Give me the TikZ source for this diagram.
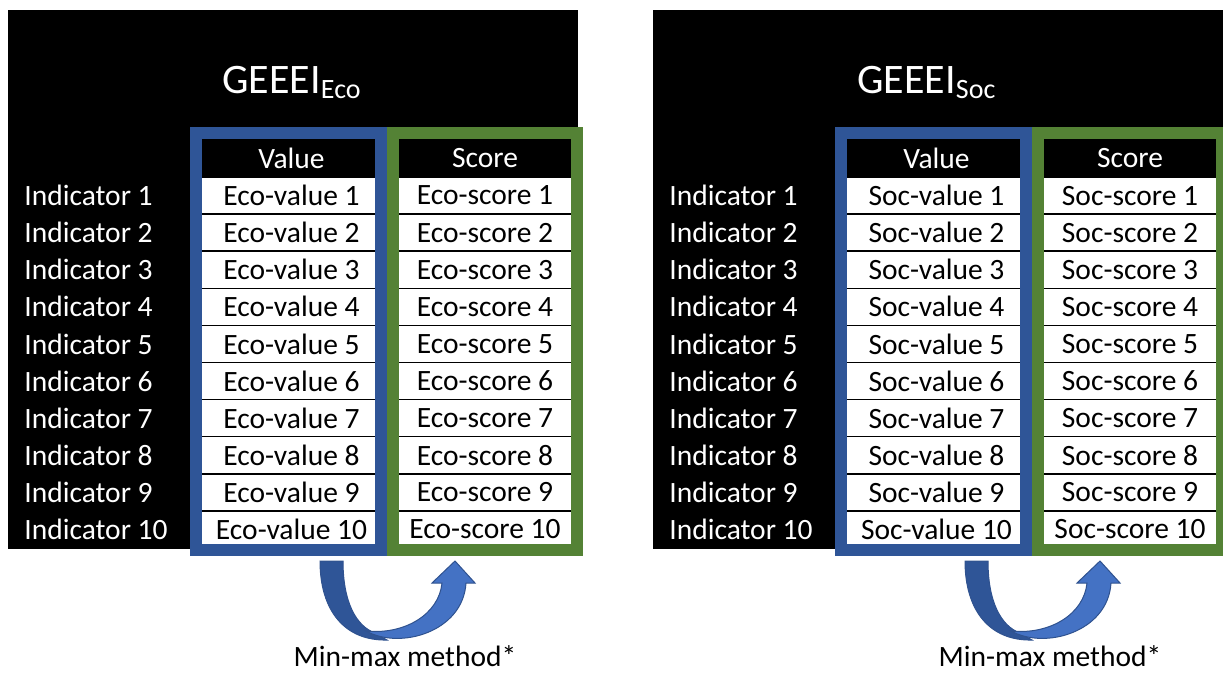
\documentclass[tikz,border=0pt]{standalone}
\usepackage{fontspec}
\setmainfont{Carlito}
\usetikzlibrary{positioning}
\definecolor{frameblue}{HTML}{2F5597}
\definecolor{framegreen}{HTML}{548235}
\definecolor{arrowdark}{HTML}{2F5597}
\definecolor{arrowlight}{HTML}{4472C4}
\definecolor{arrowedge}{HTML}{2F528F}
\tikzset{
    %set default line width to 0.75pt
    every picture/.style={line width=0.75pt},
    panel-box/.style={
        fill=black,
    },
    title-text/.style={
        text=white,
        inner sep=0pt,
        font=\fontsize{42}{50}\selectfont,
    },
    head-text/.style={
        text=white,
        inner sep=0pt,
        font=\fontsize{29.5}{35}\selectfont,
    },
    ind-text/.style={
        text=white,
        inner sep=0pt,
        anchor=west,
        font=\fontsize{29.5}{35}\selectfont,
    },
    cell-box/.style={
        draw=black,
        line width=1.5pt,
        fill=white,
        minimum height=37.1pt,
        inner sep=0pt,
        font=\fontsize{29.5}{35}\selectfont,
    },
    value-frame/.style={
        draw=frameblue,
        line width=12pt,
    },
    score-frame/.style={
        draw=framegreen,
        line width=12pt,
    },
    arrow-back/.style={
        fill=arrowdark,
        draw=arrowedge,
        line width=1pt,
    },
    arrow-front/.style={
        fill=arrowlight,
        draw=arrowedge,
        line width=1pt,
    },
    note-text/.style={
        inner sep=0pt,
        font=\fontsize{29.5}{35}\selectfont,
    },
}

\begin{document}
\begin{tikzpicture}[x=1pt,y=-1pt]
\useasboundingbox (0,0) rectangle (1223,674);

\foreach \dx/\tag/\tx in {0/Eco/222, 645/Soc/212} {
\begin{scope}[xshift=\dx pt]
    % black panel
    \fill[panel-box] (8,10) rectangle (578,549);
    % title
    \node[title-text, anchor=base west] (title-\tag) at (\tx,94) {GEEEI\raisebox{-5pt}{\fontsize{28}{32}\selectfont\tag}};
    % column heads
    \node[head-text] (value-head-\tag) at (291.5,158) {Value};
    \node[head-text] (score-head-\tag) at (485,158) {Score};
    % rows
    \foreach \i in {1,...,10} {
        \pgfmathsetmacro\yc{177+(\i-0.5)*37.1}
        \node[ind-text] (ind-\tag-\i) at (24,\yc) {Indicator \i};
        \node[cell-box, minimum width=185pt] (value-\tag-\i) at (291.5,\yc) {\tag-value \i};
        \node[cell-box, minimum width=184pt] (score-\tag-\i) at (485,\yc) {\tag-score \i};
    }
    % frames
    \draw[value-frame] (196,133) rectangle (381,550);
    \draw[score-frame] (393,133) rectangle (577,550);
    % curved arrow
    \filldraw[arrow-back] (320,561) -- (343,561) .. controls (343,602) and (356,626) .. (375,633) -- (387,640) .. controls (345,641) and (320,611) .. (320,561) -- cycle;
    \filldraw[arrow-front] (366,631) .. controls (400,650) and (463,632) .. (466,583) -- (475,583) -- (455,561) -- (432,583) -- (442,583) .. controls (439,614) and (405,635) .. (366,631) -- cycle;
    \node[note-text] (note-\tag) at (405,656) {Min-max method*};
\end{scope}
}
\end{tikzpicture}
\end{document}
